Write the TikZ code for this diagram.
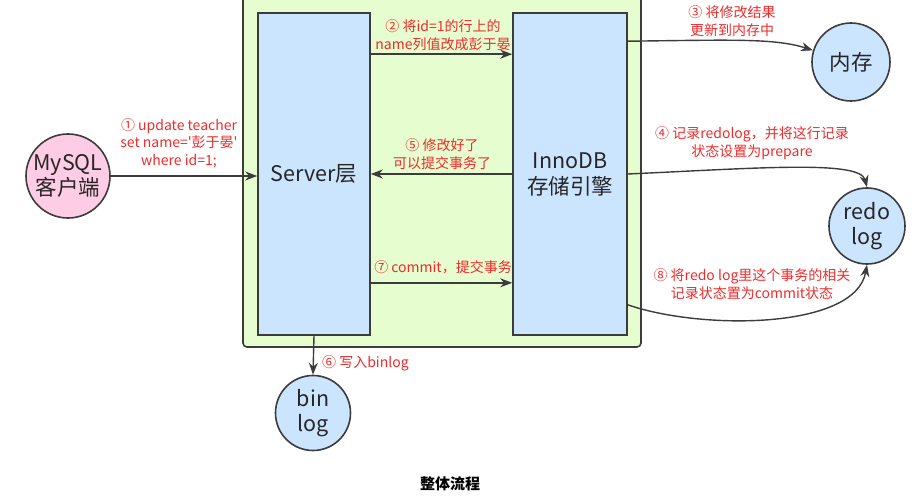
\documentclass[tikz,border=0pt]{standalone}
\usepackage{fontspec}
\setmainfont{Noto Sans CJK SC}[Ligatures=TeXOff]
\usetikzlibrary{arrows.meta}
\definecolor{gfill}{HTML}{E6FDCF}
\definecolor{bfill}{HTML}{CCE5FF}
\definecolor{pfill}{HTML}{FFCCE6}
\definecolor{lred}{HTML}{EE2B2B}
\definecolor{edgec}{HTML}{3C3C3C}
\begin{document}
\begin{tikzpicture}[x=1pt,y=-1pt,
  box/.style={draw=edgec, line width=1.6pt, fill=bfill, inner sep=0pt},
  circ/.style={circle, draw=edgec, line width=1.6pt, fill=bfill, inner sep=0pt, align=center, font=\fontsize{21.5}{25}\selectfont, text=black!85},
  lbl/.style={text=lred, align=center, font=\fontsize{14}{17.5}\selectfont, inner sep=0pt},
  conn/.style={draw=edgec, line width=1.4pt, -{Stealth[length=12pt,width=9pt]}}]
\useasboundingbox (0,0) rectangle (921,497);
\clip (0,0) rectangle (921,497);
% group box
\node[draw=edgec, line width=1.6pt, fill=gfill, rounded corners=4pt, minimum width=398pt, minimum height=362pt, inner sep=0pt] (grp) at (442,166) {};
% server / innodb
\node[box, minimum width=112pt, minimum height=322pt, font=\fontsize{21.5}{25}\selectfont, text=black!85] (server) at (314,174) {Server层};
\node[box, minimum width=114pt, minimum height=322pt, align=center, font=\fontsize{21.5}{26}\selectfont, text=black!85] (innodb) at (570,174) {InnoDB\\存储引擎};
% circles
\node[circ, fill=pfill, minimum size=84pt] (mysql) at (68,176) {MySQL\\客户端};
\node[circ, minimum size=78pt] (mem) at (851,62) {内存};
\node[circ, minimum size=76pt] (redo) at (867,226) {redo\\log};
\node[circ, minimum size=75pt] (bin) at (313,413) {bin\\log};
% connectors
\draw[conn] (mysql.east) -- (server.west |- mysql.east);
\draw[conn] ([yshift=-42pt]server.north east) -- ([yshift=-42pt]innodb.north west);
\draw[conn] (innodb.west) -- (server.east);
\draw[conn] ([yshift=53pt]server.south east) -- ([yshift=53pt]innodb.south west);
\draw[conn] (server.south) -- (bin.north);
\draw[conn] ([yshift=-29pt]innodb.north east) .. controls (730,40) and (775,38) .. (mem.163);
\draw[conn] (innodb.east) .. controls (760,168) and (860,160) .. (redo.north);
\draw[conn] ([yshift=31pt]innodb.south east) .. controls (700,330) and (855,330) .. (redo.south);
% labels
\node[lbl] (l1) at (179,143) {① update teacher\\set name='彭于晏'\\where id=1;};
\node[lbl] (l2) at (443,35) {② 将id=1的行上的\\name列值改成彭于晏};
\node[lbl] (l3) at (732,21) {③ 将修改结果\\更新到内存中};
\node[lbl] (l4) at (752,143) {④ 记录redolog，并将这行记录\\状态设置为prepare};
\node[lbl] (l5) at (442,154) {⑤ 修改好了\\可以提交事务了};
\node[lbl, anchor=west] (l6) at (322,363) {⑥ 写入binlog};
\node[lbl] (l7) at (443,267) {⑦ commit，提交事务};
\node[lbl] (l8) at (752,284) {⑧ 将redo log里这个事务的相关\\记录状态置为commit状态};
\node[font=\fontsize{15}{17}\selectfont\bfseries] (cap) at (450,484) {整体流程};
\end{tikzpicture}
\end{document}
